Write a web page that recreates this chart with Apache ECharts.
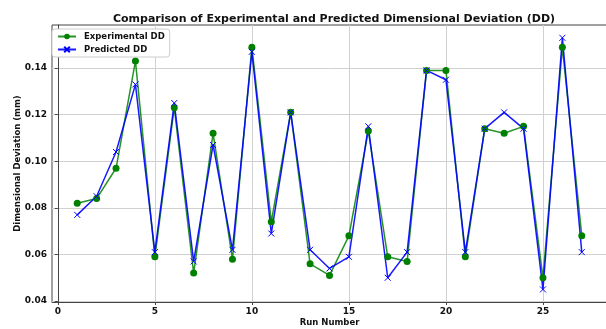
<!DOCTYPE html>
<html>
<head>
<meta charset="utf-8">
<script src="https://cdn.jsdelivr.net/npm/echarts@6/dist/echarts.min.js"></script>
<style>
  html, body { margin: 0; padding: 0; background: #fff; }
  #chart { width: 606px; height: 329px; }
</style>
</head>
<body>
<div id="chart"></div>
<script>
var runs = [1, 2, 3, 4, 5, 6, 7, 8, 9, 10, 11, 12, 13, 14, 15, 16, 17, 18, 19, 20, 21, 22, 23, 24, 25, 26, 27];
var experimentalDD = [0.082, 0.084, 0.097, 0.143, 0.059, 0.123, 0.052, 0.112, 0.058, 0.149, 0.074, 0.121, 0.056, 0.051,
    0.068, 0.113, 0.059, 0.057, 0.139, 0.139, 0.059, 0.114, 0.112, 0.115, 0.050, 0.149, 0.068];
var predictedDD = [0.077, 0.085, 0.104, 0.133, 0.061, 0.125, 0.057, 0.107, 0.062, 0.147, 0.069, 0.121, 0.062, 0.054,
    0.059, 0.115, 0.050, 0.061, 0.139, 0.135, 0.061, 0.114, 0.121, 0.114, 0.045, 0.153, 0.061];
var xTicks = [0, 5, 10, 15, 20, 25];
var yTicks = [0.04, 0.06, 0.08, 0.10, 0.12, 0.14];

function pairs(ys) {
    return runs.map(function (r, i) { return [r, ys[i]]; });
}

var chart = echarts.init(document.getElementById('chart'));
// 'x' marker like matplotlib
var crossPath = 'path://M0,0L10,10M10,0L0,10';
var option = {
    animation: false,
    title: {
        text: 'Comparison of Experimental and Predicted Dimensional Deviation (DD)',
        left: 329,
        textAlign: 'center',
        top: 9,
        textStyle: { fontSize: 11, fontWeight: 'bold', color: '#111', fontFamily: 'DejaVu Sans' }
    },
    legend: {
        orient: 'vertical',
        left: 52,
        top: 29,
        padding: [3, 5, 3, 5],
        itemGap: 4,
        itemWidth: 18,
        itemHeight: 7,
        backgroundColor: '#fff',
        borderColor: '#ccc',
        borderWidth: 1,
        borderRadius: 3,
        textStyle: { fontSize: 8.5, fontWeight: 'bold', color: '#111', fontFamily: 'DejaVu Sans', padding: [0, 0, 0, 3] },
        data: ['Experimental DD', 'Predicted DD']
    },
    grid: {
        left: 52, top: 25, width: 555, height: 277,
        outerBoundsMode: 'none',
        show: true, borderColor: '#444', borderWidth: 1
    },
    xAxis: {
        type: 'value',
        min: -0.3,
        max: 28.3,
        name: 'Run Number',
        nameLocation: 'middle',
        nameGap: 16,
        nameMoveOverlap: false,
        nameTextStyle: { fontSize: 8.5, fontWeight: 'bold', color: '#111', fontFamily: 'DejaVu Sans' },
        axisLine: { show: true, lineStyle: { color: '#444' } },
        axisTick: { show: true, length: 3, customValues: xTicks, lineStyle: { color: '#444' } },
        axisLabel: { customValues: xTicks, fontSize: 9, fontWeight: 'bold', color: '#111', fontFamily: 'DejaVu Sans', margin: 5 },
        splitLine: { show: true, lineStyle: { color: '#d0d0d0', width: 1 } }
    },
    yAxis: {
        type: 'value',
        min: 0.0396,
        max: 0.1585,
        name: 'Dimensional Deviation (mm)',
        nameLocation: 'middle',
        nameGap: 30,
        nameMoveOverlap: false,
        nameTextStyle: { fontSize: 8.5, fontWeight: 'bold', color: '#111', fontFamily: 'DejaVu Sans' },
        axisLine: { show: true, lineStyle: { color: '#444' } },
        axisTick: { show: true, length: 3, customValues: yTicks, lineStyle: { color: '#444' } },
        axisLabel: {
            customValues: yTicks, fontSize: 9, fontWeight: 'bold', color: '#111', fontFamily: 'DejaVu Sans', margin: 5,
            formatter: function (v) { return v.toFixed(2); }
        },
        splitLine: { show: true, lineStyle: { color: '#d0d0d0', width: 1 } }
    },
    series: [
        {
            name: 'Experimental DD',
            type: 'line',
            data: pairs(experimentalDD),
            symbol: 'circle',
            symbolSize: 7,
            color: '#008000',
            lineStyle: { width: 1.5, color: '#008000', opacity: 0.85 },
            itemStyle: { color: '#008000' }
        },
        {
            name: 'Predicted DD',
            type: 'line',
            data: pairs(predictedDD),
            symbol: crossPath,
            symbolSize: 6,
            color: '#0000ff',
            lineStyle: { width: 1.5, color: '#0000ff', opacity: 0.9 },
            itemStyle: { color: 'rgba(0,0,0,0)', borderColor: '#0000ff', borderWidth: 1 }
        }
    ]
};
chart.setOption(option);
</script>
</body>
</html>
